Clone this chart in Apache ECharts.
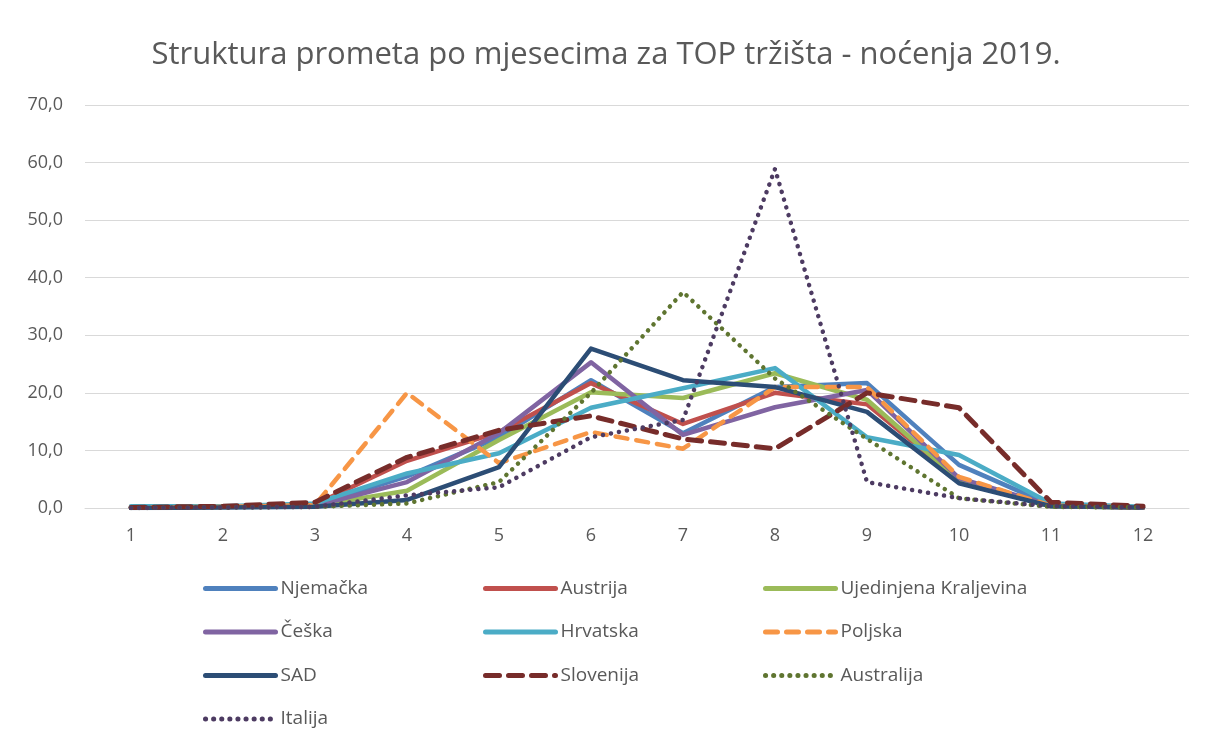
<!DOCTYPE html>
<html>
<head>
<meta charset="utf-8">
<script src="https://cdn.jsdelivr.net/npm/echarts@6/dist/echarts.min.js"></script>
<style>
  html, body { margin: 0; padding: 0; background: #fff; }
  #chart { width: 1212px; height: 747px; }
</style>
</head>
<body>
<div id="chart"></div>
<script>
// mjeseci
var months = ['1', '2', '3', '4', '5', '6', '7', '8', '9', '10', '11', '12'];
var yTicks = [0, 10, 20, 30, 40, 50, 60, 70];

// udio noćenja po mjesecima (%)
var njemacka   = [0.1, 0.2, 0.5, 5.5, 12.3, 22.2, 13.0, 21.0, 21.7, 7.5, 0.5, 0.1];
var austrija   = [0.1, 0.2, 0.6, 8.2, 13.2, 21.7, 14.6, 20.0, 18.0, 4.9, 0.4, 0.1];
var ujedinjena = [0.1, 0.2, 0.4, 3.0, 11.8, 20.1, 19.1, 23.4, 18.8, 4.8, 0.3, 0.1];
var ceska      = [0.1, 0.2, 0.4, 4.5, 13.0, 25.3, 12.7, 17.5, 20.5, 5.2, 0.4, 0.1];
var hrvatska   = [0.3, 0.3, 0.8, 6.0, 9.5, 17.4, 20.8, 24.3, 12.3, 9.2, 0.8, 0.2];
var poljska    = [0.1, 0.2, 0.5, 20.0, 7.8, 13.2, 10.3, 21.0, 21.0, 5.4, 0.4, 0.1];
var sad        = [0.0, 0.1, 0.2, 1.4, 7.1, 27.7, 22.2, 21.0, 16.7, 4.3, 0.3, 0.1];
var slovenija  = [0.1, 0.3, 1.0, 8.8, 13.5, 16.0, 12.0, 10.3, 20.0, 17.4, 1.0, 0.3];
var australija = [0.0, 0.1, 0.2, 0.8, 4.5, 20.0, 37.5, 22.5, 12.0, 1.7, 0.2, 0.1];
var italija    = [0.0, 0.1, 0.2, 2.2, 3.6, 12.3, 15.3, 58.9, 4.5, 1.7, 0.3, 0.1];

var chart = echarts.init(document.getElementById('chart'));
var font = '"Open Sans", sans-serif';

function mkSeries(name, data, color, type, width) {
  return {
    name: name,
    type: 'line',
    data: data,
    symbol: 'none',
    smooth: false,
    itemStyle: { color: color },
    lineStyle: { color: color, width: width || 4.5, type: type || 'solid', cap: 'round', join: 'round' }
  };
}

// jedna legenda po stupcu, da stupci budu poravnati
function mkLegend(left, names) {
  return {
    orient: 'vertical',
    left: left,
    top: 574,
    itemWidth: 70,
    itemHeight: 12,
    itemGap: 24.5,
    data: names,
    itemStyle: { opacity: 0 },
    lineStyle: { width: 5 },
    textStyle: { color: '#595959', fontSize: 19, fontFamily: font }
  };
}

var option = {
  animation: false,
  backgroundColor: '#fff',
  title: {
    text: 'Struktura prometa po mjesecima za TOP tržišta - noćenja 2019.',
    left: 'center',
    top: 35,
    textStyle: { color: '#595959', fontSize: 31, fontWeight: 'normal', fontFamily: font }
  },
  legend: [
    mkLegend(198, ['Njemačka', 'Češka', 'SAD', 'Italija']),
    mkLegend(478, ['Austrija', 'Hrvatska', 'Slovenija']),
    mkLegend(758, ['Ujedinjena Kraljevina', 'Poljska', 'Australija'])
  ],
  grid: { left: 85, right: 23, top: 105, bottom: 239 },
  xAxis: {
    type: 'category',
    data: months,
    boundaryGap: true,
    axisLine: { lineStyle: { color: '#d9d9d9' } },
    axisTick: { show: false },
    axisLabel: { color: '#595959', fontSize: 18, fontFamily: font, margin: 19 }
  },
  yAxis: {
    type: 'value',
    min: yTicks[0],
    max: yTicks[yTicks.length - 1],
    interval: 10,
    axisLine: { show: false },
    axisTick: { show: false },
    splitLine: { lineStyle: { color: '#d9d9d9', width: 1 } },
    axisLabel: {
      color: '#595959', fontSize: 18, fontFamily: font, margin: 22,
      formatter: function (v) { return v.toFixed(1).replace('.', ','); }
    }
  },
  series: [
    mkSeries('Njemačka', njemacka, '#4F81BD'),
    mkSeries('Austrija', austrija, '#C0504D'),
    mkSeries('Ujedinjena Kraljevina', ujedinjena, '#9BBB59'),
    mkSeries('Češka', ceska, '#8064A2'),
    mkSeries('Hrvatska', hrvatska, '#4BACC6'),
    mkSeries('Poljska', poljska, '#F79646', [12, 9]),
    mkSeries('SAD', sad, '#2C4D75'),
    mkSeries('Slovenija', slovenija, '#772C2A', [14, 9], 5),
    mkSeries('Australija', australija, '#5F7530', [0.1, 8]),
    mkSeries('Italija', italija, '#4D3B62', [0.1, 8])
  ]
};

chart.setOption(option);
</script>
</body>
</html>
